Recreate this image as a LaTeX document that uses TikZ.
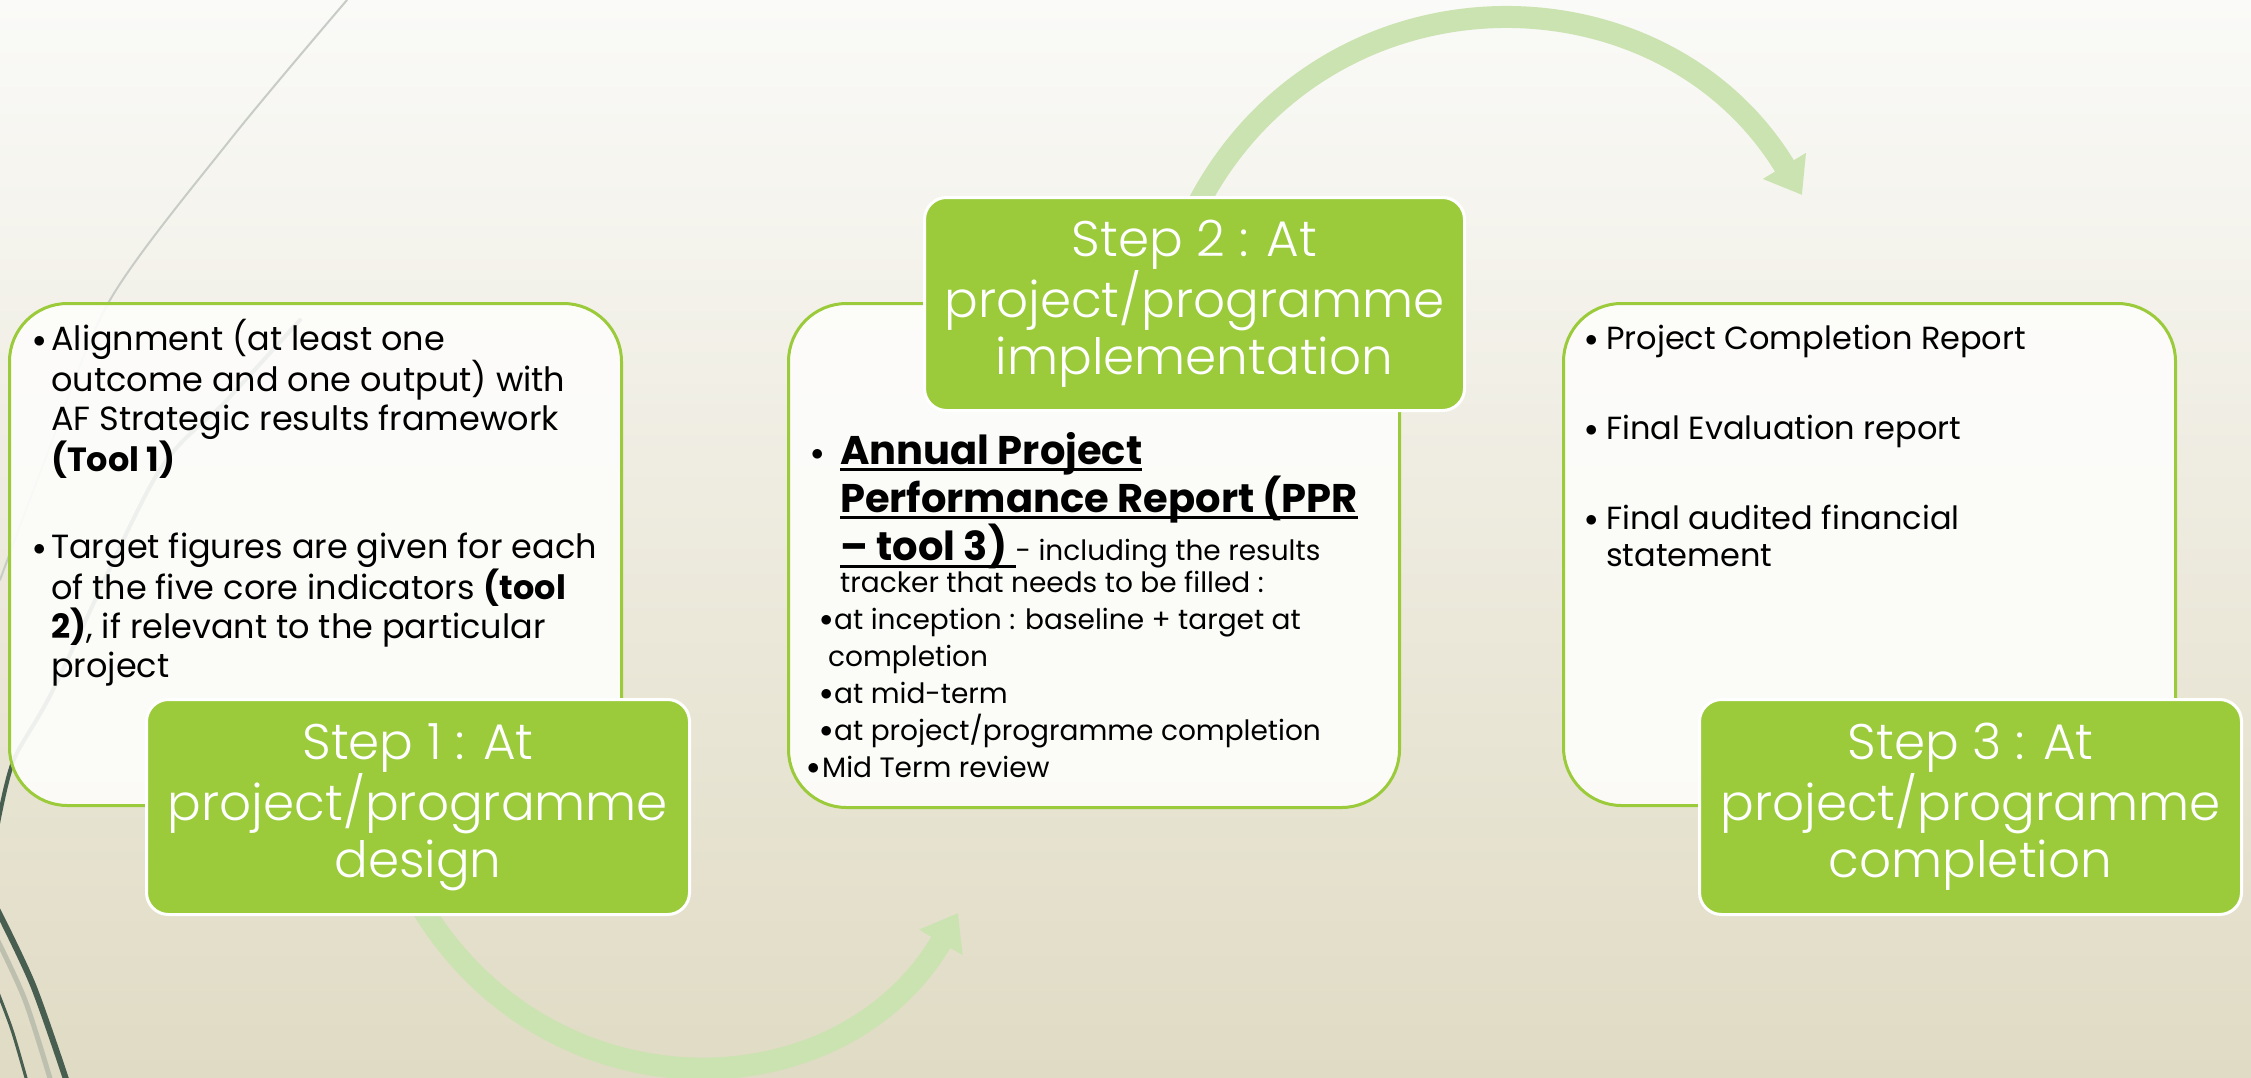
\documentclass[tikz,border=0pt]{standalone}
\usepackage{fontspec}
\setmainfont{Poppins}
\IfFontExistsTF{Poppins Light}{\newfontfamily\stepfont{Poppins Light}}{\newfontfamily\stepfont{Poppins}}
\usetikzlibrary{arrows.meta}
\definecolor{stepgreen}{RGB}{155,203,59}
\definecolor{arrowgreen}{RGB}{203,227,176}
\definecolor{bgtop}{RGB}{250,250,248}
\definecolor{bgbot}{RGB}{224,219,196}
\definecolor{boxwhite}{RGB}{253,253,251}
\definecolor{darkwisp}{RGB}{72,94,80}
\definecolor{greywisp}{RGB}{200,204,198}
\definecolor{palewisp}{RGB}{190,192,175}
\pgfdeclarelayer{bg}
\pgfsetlayers{bg,main}
\newcommand\ulbold[1]{\setbox0\hbox{\bfseries #1}\rlap{\rule[-7pt]{\wd0}{3pt}}\box0}
\newcommand\bul[1]{\makebox[#1][l]{\raisebox{0.09em}{$\bullet$}}}
\newcommand\firstln[1]{\rule{0pt}{#1}}
\begin{document}
\begin{tikzpicture}[x=1pt, y=-1pt,
    panel/.style={rectangle, draw=stepgreen, line width=3pt, fill=boxwhite, fill opacity=0.92, rounded corners=58pt, anchor=north west, inner sep=0pt},
    stepbox/.style={rectangle, draw=white, line width=3pt, fill=stepgreen, rounded corners=22pt, anchor=north west, align=center, text=white, font=\stepfont\fontsize{50}{57}\selectfont, inner sep=0pt},
    body/.style={anchor=north west, inner sep=0pt, align=left, font=\fontsize{31}{39}\selectfont},
    subtext/.style={anchor=north west, inner sep=0pt, align=left, font=\fontsize{28}{37}\selectfont},
    flow/.style={line width=22pt, draw=arrowgreen, -{Triangle[width=48pt,length=34pt]}},
    wisp/.style={line cap=round}
]
    \useasboundingbox (0,0) rectangle (2251,1077);

    % Panels
    \node[panel, minimum width=612pt, minimum height=502pt] (b1) at (8,302) {};
    \node[panel, minimum width=611pt, minimum height=504pt] (b2) at (787,302) {};
    \node[panel, minimum width=612pt, minimum height=502pt] (b3) at (1562,302) {};

    % Panel texts
    \node[body, font=\fontsize{33.5}{39}\selectfont] (t1) at (33,319) {\firstln{30pt}\bul{18pt}Alignment (at least one\\
        \hspace*{18pt}outcome and one output) with\\
        \hspace*{18pt}AF Strategic results framework\\
        \hspace*{18pt}\textbf{(Tool 1)}\\[48pt]
        \bul{18pt}Target figures are given for each\\
        \hspace*{18pt}of the five core indicators \textbf{(tool}\\
        \hspace*{18pt}\textbf{2)}, if relevant to the particular\\
        \hspace*{18pt}project};
    \node[body, font=\bfseries\fontsize{40}{47}\selectfont] (t2) at (811,424) {\firstln{40pt}\bul{29pt}\ulbold{Annual Project}\\
        \hspace*{29pt}\ulbold{Performance Report (PPR}\\
        \hspace*{29pt}\ulbold{– tool 3)\ }{\mdseries\fontsize{28}{37}\selectfont - including the results}};
    \node[subtext] (t2b) at (807,562) {\firstln{30pt}\hspace*{33pt}tracker that needs to be filled :\\
        \hspace*{13pt}\bul{14pt}at inception : baseline + target at\\
        \hspace*{21pt}completion\\
        \hspace*{13pt}\bul{14pt}at mid-term\\
        \hspace*{13pt}\bul{14pt}at project/programme completion\\
        \bul{15pt}Mid Term review};
    \node[body, font=\fontsize{32}{37}\selectfont] (t3) at (1585,319) {\firstln{30pt}\bul{21pt}Project Completion Report\\[53pt]
        \bul{21pt}Final Evaluation report\\[53pt]
        \bul{21pt}Final audited financial\\
        \hspace*{21pt}statement};

    % Steps
    \node[stepbox, minimum width=543pt, minimum height=215pt] (s1) at (145,698) {Step 1 : At\\project/programme\\design};
    \node[stepbox, minimum width=540pt, minimum height=213pt] (s2) at (923,196) {Step 2 : At\\project/programme\\implementation};
    \node[stepbox, minimum width=542pt, minimum height=215pt] (s3) at (1698,698) {Step 3 : At\\project/programme\\completion};

    \coordinate (e1) at (958,913);
    \coordinate (e2) at (1802,195);

    \begin{pgfonlayer}{bg}
        % Background
        \shade[top color=bgtop, bottom color=bgbot] (0,0) rectangle (2251,1077);
        % Wisps
        \draw[wisp, greywisp, line width=2pt] plot[smooth] coordinates {(347,0) (230,140) (110,300) (45,460) (0,580)};
        \draw[wisp, darkwisp, line width=4pt] plot[smooth] coordinates {(300,320) (227,400) (156,476) (54,688) (13,762) (-5,840)};
        \draw[wisp, palewisp, line width=5pt] plot[smooth] coordinates {(-5,935) (25,1000) (52,1085)};
        \draw[wisp, darkwisp, line width=6pt] plot[smooth] coordinates {(-5,905) (33,985) (68,1085)};
        \draw[wisp, darkwisp, line width=3pt] plot[smooth] coordinates {(-5,985) (12,1030) (28,1085)};
        % Flow arrows
        \draw[flow] ([yshift=15pt]s1.south) .. controls (545,1120) and (840,1115) .. (e1);
        \draw[flow] ([yshift=-15pt]s2.north) .. controls (1320,-40) and (1660,-40) .. (e2);
    \end{pgfonlayer}

\end{tikzpicture}
\end{document}
